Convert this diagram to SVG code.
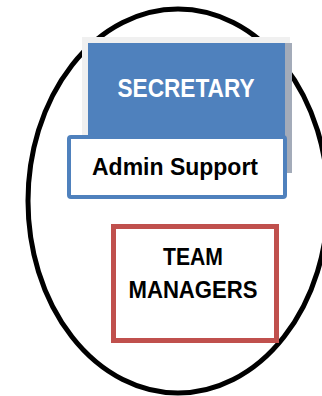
<svg xmlns="http://www.w3.org/2000/svg" width="322" height="396" viewBox="0 0 322 396">
<style>
.t{font-family:"Liberation Sans",Arial,sans-serif;font-weight:bold;text-anchor:middle}
</style>
<rect width="322" height="396" fill="#ffffff"/>
<g id="boundary">
<ellipse cx="178" cy="201" rx="150" ry="192" fill="#ffffff" stroke="#000000" stroke-width="5"/>
</g>
<g id="secretary">
<rect x="82" y="37" width="208" height="110" fill="#f0f0f0"/>
<rect x="285" y="43" width="7" height="130" fill="#a3abb9"/>
<rect x="88" y="43" width="197" height="110" fill="#4f81bd"/>
<text class="t" x="186" y="97" font-size="25" fill="#ffffff" textLength="137" lengthAdjust="spacingAndGlyphs">SECRETARY</text>
</g>
<g id="admin">
<rect x="69" y="137" width="216" height="60" rx="2" fill="#ffffff" stroke="#4f81bd" stroke-width="4"/>
<text class="t" x="175" y="175" font-size="23" fill="#000000" textLength="166" lengthAdjust="spacingAndGlyphs">Admin Support</text>
</g>
<g id="team">
<rect x="113.5" y="226.5" width="163" height="114" fill="#ffffff" stroke="#c0504d" stroke-width="5"/>
<text class="t" x="193" y="265" font-size="23" fill="#000000" textLength="60" lengthAdjust="spacingAndGlyphs">TEAM</text>
<text class="t" x="193" y="298" font-size="23" fill="#000000" textLength="129" lengthAdjust="spacingAndGlyphs">MANAGERS</text>
</g>
<g id="connectors"></g>
</svg>
